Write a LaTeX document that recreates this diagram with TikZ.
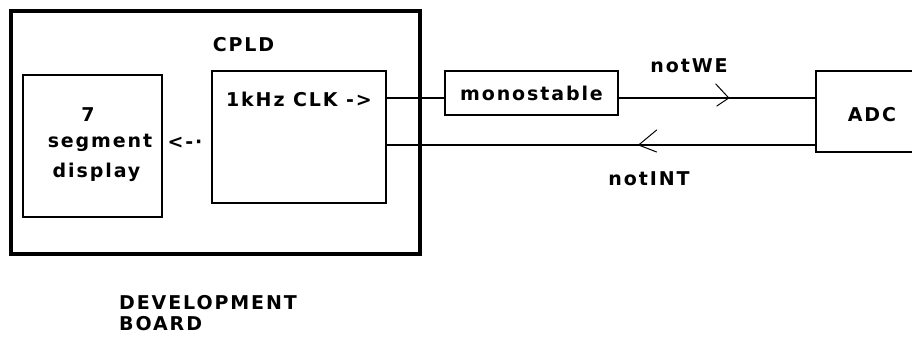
\documentclass[tikz,border=0pt]{standalone}
\usepackage{fontspec}
\usetikzlibrary{calc}
\setmainfont{DejaVu Sans}[LetterSpace=10]
\begin{document}
\begin{tikzpicture}[x=1pt,y=-1pt,
  txt/.style={font=\fontsize{19}{21}\selectfont\bfseries, inner sep=0pt},
  box/.style={draw, line width=1.3pt, rectangle, inner sep=0pt},
  wire/.style={line width=1.3pt},
  chev/.style={line width=1pt, line cap=round, line join=round}]
\clip (0,0) rectangle (912,341);
\fill[white] (0,0) rectangle (912,341);

% development board and its blocks
\node[box, line width=3.2pt, minimum width=409pt, minimum height=243pt] (board) at (215.5,132.5) {};
\node[box, minimum width=139pt, minimum height=142pt] (disp) at (92.5,146) {};
\node[box, minimum width=174pt, minimum height=132pt] (cpld) at (299,137) {};

% external blocks
\node[box, minimum width=173pt, minimum height=44pt] (mono) at (531.5,93) {};
\node[box, minimum width=130pt, minimum height=81pt] (adc) at (881,111.5) {};

% labels
\node[txt] (cpldlbl) at (243.5,45) {CPLD};
\node[txt] (clk) at (299,99) {1kHz CLK ->};
\node[txt] (seven) at (88,115) {7};
\node[txt] (segment) at (100,143) {segment};
\node[txt] (display) at (96.5,172) {display};
\node[txt] (toDisp) at (185,143) {<-·};
\node[txt] (monolbl) at (mono) {monostable};
\node[txt] (adclbl) at (872,115) {ADC};
\node[txt] (we) at (689,66) {notWE};
\node[txt] (int) at (649,179) {notINT};
\node[txt, align=left, anchor=west] (devboard) at (119,313) {DEVELOPMENT\\BOARD};

% signal wires
\coordinate (monoIn) at ([yshift=-5pt]mono.west);
\coordinate (monoOut) at ([yshift=-5pt]mono.east);
\coordinate (irq) at ([yshift=-8pt]cpld.east);
\draw[wire] (cpld.east |- monoIn) -- (monoIn);
\draw[wire] (monoOut) -- (adc.west |- monoOut);
\draw[wire] (adc.west |- irq) -- (irq);

% direction marks on the wires
\coordinate (weTip) at ($(monoOut)!0.56!(adc.west |- monoOut)$);
\draw[chev] ([shift={(-13,-14)}]weTip) -- (weTip) -- ([shift={(-12,8)}]weTip);
\coordinate (intTip) at ([xshift=252pt]irq);
\draw[chev] ([shift={(18,-15)}]intTip) -- (intTip) -- ([shift={(18,7)}]intTip);
\end{tikzpicture}
\end{document}
